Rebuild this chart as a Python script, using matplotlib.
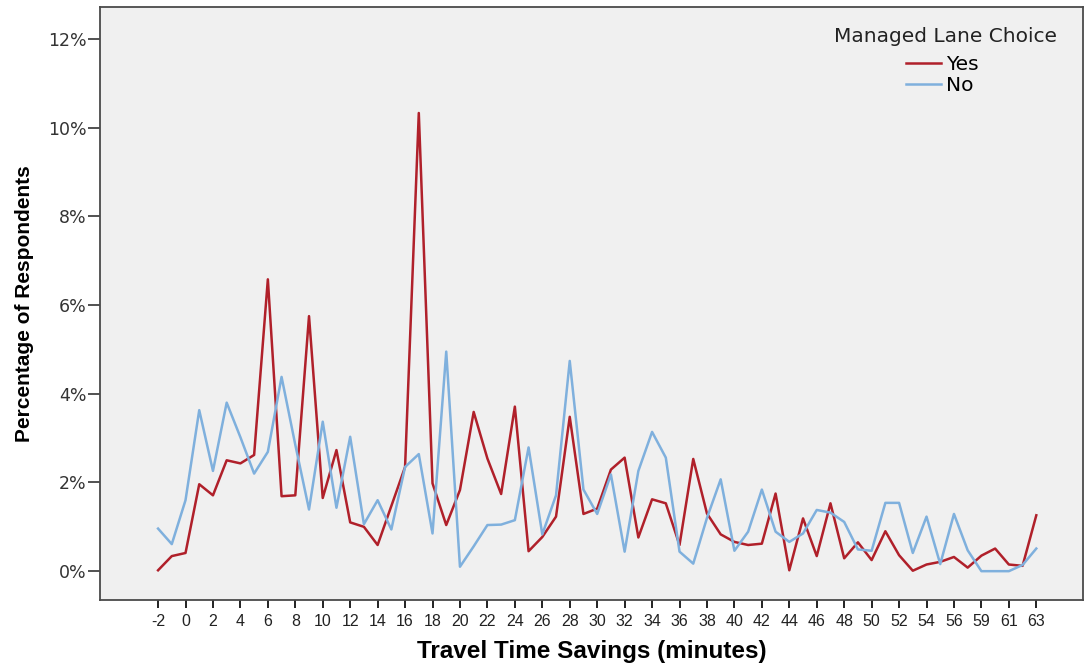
import matplotlib.pyplot as plt
from matplotlib.ticker import FuncFormatter

# travel time savings categories (58 is absent in the survey)
minutes = list(range(-2, 58)) + [59, 60, 61, 62, 63]

# percentage of respondents per category
yes_pct = [0.02, 0.34, 0.41, 1.96, 1.71, 2.50, 2.43, 2.62, 6.58, 1.69,
           1.71, 5.75, 1.65, 2.73, 1.10, 1.00, 0.59, 1.47, 2.35, 10.33,
           1.98, 1.04, 1.83, 3.59, 2.54, 1.74, 3.71, 0.45, 0.77, 1.23,
           3.48, 1.29, 1.41, 2.29, 2.56, 0.76, 1.62, 1.53, 0.59, 2.53,
           1.30, 0.83, 0.66, 0.59, 0.62, 1.75, 0.02, 1.19, 0.34, 1.53,
           0.29, 0.65, 0.25, 0.90, 0.36, 0.01, 0.15, 0.21, 0.32, 0.08,
           0.35, 0.51, 0.15, 0.12, 1.26]
no_pct = [0.96, 0.61, 1.60, 3.63, 2.26, 3.80, 3.02, 2.20, 2.69, 4.38,
          2.85, 1.39, 3.37, 1.43, 3.03, 1.06, 1.60, 0.94, 2.35, 2.64,
          0.85, 4.95, 0.10, 0.56, 1.04, 1.05, 1.15, 2.79, 0.83, 1.71,
          4.74, 1.84, 1.29, 2.18, 0.44, 2.26, 3.14, 2.56, 0.44, 0.17,
          1.20, 2.07, 0.46, 0.89, 1.84, 0.89, 0.66, 0.85, 1.38, 1.32,
          1.11, 0.49, 0.46, 1.54, 1.54, 0.41, 1.23, 0.16, 1.29, 0.47,
          0.0, 0.0, 0.0, 0.14, 0.51]

plain = ['Liberation Sans', 'DejaVu Sans']
wide = ['DejaVu Sans']

fig = plt.figure(figsize=(10.86, 6.66), dpi=100)
ax = fig.add_axes([0.0921, 0.0991, 0.9051, 0.8904])
ax.set_facecolor('#f0f0f0')

pos = list(range(len(minutes)))
ax.plot(pos, yes_pct, color='#b0202a', lw=1.8, label='Yes')
ax.plot(pos, no_pct, color='#7fb0dd', lw=1.8, label='No')

ax.set_xlim(-4.23, 67.4)
ax.set_ylim(-0.65, 12.72)

ax.set_xticks(pos[::2])
ax.set_xticklabels([str(m) for m in minutes[::2]], family=plain,
                   fontsize=11.5, color='#222222')
ax.set_yticks([0, 2, 4, 6, 8, 10, 12])
ax.yaxis.set_major_formatter(FuncFormatter(lambda v, p: f'{v:.0f}%'))
for lab in ax.get_yticklabels():
    lab.set_family(wide)
    lab.set_fontsize(12.5)
    lab.set_color('#333333')
ax.tick_params(axis='x', length=6, width=1.4, color='#222222', pad=4)
ax.tick_params(axis='y', length=8.5, width=1.2, color='#333333', pad=1)

for s in ax.spines.values():
    s.set_color('#4a4a4a')
    s.set_linewidth(1.3)

ax.set_xlabel('Travel Time Savings (minutes)', family=plain,
              fontsize=17.5, fontweight='bold', labelpad=8)
ax.set_ylabel('Percentage of Respondents', family=plain,
              fontsize=15, fontweight='bold', labelpad=10)

# legend: title placed above a compact two-line key
fig.text(946 / 1086, 1 - 37 / 666, 'Managed Lane Choice', family=wide,
         fontsize=14.5, color='#222222', ha='center', va='center')
ax.legend(loc='upper left', bbox_to_anchor=(906 / 1086, 1 - 55 / 666),
          bbox_transform=fig.transFigure, frameon=False, borderpad=0,
          borderaxespad=0, handlelength=1.75, handletextpad=0.25,
          labelspacing=0.1, prop={'family': wide, 'size': 14.5})

fig.savefig('out.png', dpi=100)
